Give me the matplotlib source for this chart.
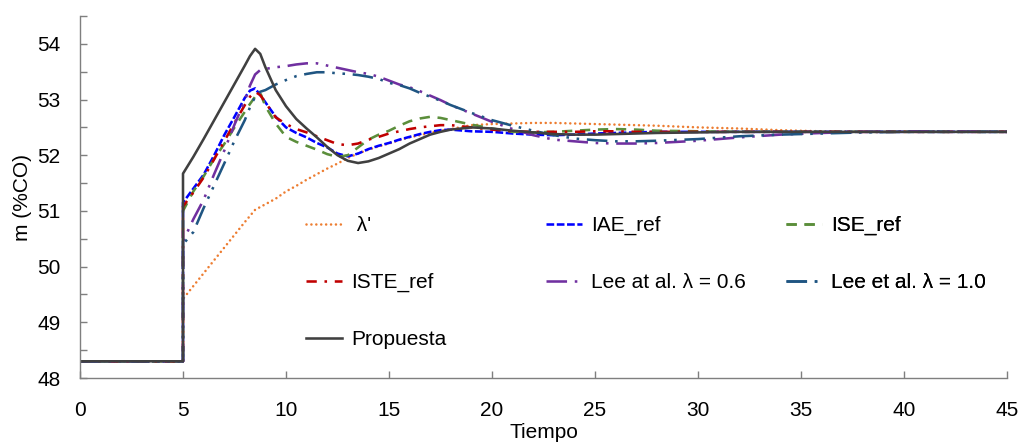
import matplotlib
matplotlib.use("Agg")
import matplotlib.pyplot as plt

plt.rcParams['font.family'] = ['Liberation Sans', 'DejaVu Sans']
plt.rcParams['font.size'] = 15

# Time axis shared by all responses (the step is applied at t = 5)
tiempo = [0, 5, 5, 5.5, 6, 6.5, 7, 7.5, 8, 8.25, 8.5, 8.75, 9, 9.5, 10, 10.5,
          11, 11.5, 12, 12.5, 13, 13.5, 14, 14.5, 15, 15.5, 16, 16.5, 17,
          17.5, 18, 19, 20, 21, 22, 23, 24, 25, 26, 27, 28, 30, 32, 34, 36,
          38, 40, 42, 45]

lambda_p = [48.3, 48.3, 49.42, 49.65, 49.88, 50.11, 50.34, 50.57, 50.80, 50.91,
            51.02, 51.07, 51.12, 51.22, 51.35, 51.45, 51.56, 51.66, 51.76,
            51.85, 51.95, 52.03, 52.10, 52.16, 52.21, 52.27, 52.32, 52.36,
            52.40, 52.44, 52.47, 52.54, 52.56, 52.57, 52.58, 52.58, 52.57,
            52.56, 52.55, 52.54, 52.53, 52.50, 52.48, 52.45, 52.43, 52.42,
            52.42, 52.42, 52.42]

iae_ref = [48.3, 48.3, 51.15, 51.40, 51.65, 51.99, 52.36, 52.69, 53.03, 53.16,
           53.20, 53.08, 52.95, 52.69, 52.50, 52.40, 52.32, 52.22, 52.14,
           52.03, 51.98, 52.03, 52.11, 52.17, 52.22, 52.28, 52.33, 52.38,
           52.42, 52.45, 52.46, 52.43, 52.42, 52.39, 52.37, 52.36, 52.37,
           52.39, 52.40, 52.41, 52.42, 52.42, 52.42, 52.42, 52.42, 52.42,
           52.42, 52.42, 52.42]

ise_ref = [48.3, 48.3, 51.00, 51.35, 51.62, 51.93, 52.20, 52.50, 52.78, 52.92,
           53.05, 53.12, 52.88, 52.57, 52.33, 52.24, 52.17, 52.10, 52.02,
           51.97, 52.00, 52.14, 52.28, 52.37, 52.44, 52.53, 52.61, 52.66,
           52.69, 52.67, 52.63, 52.55, 52.48, 52.42, 52.41, 52.42, 52.44,
           52.46, 52.47, 52.46, 52.44, 52.43, 52.42, 52.42, 52.42, 52.42,
           52.42, 52.42, 52.42]

iste_ref = [48.3, 48.3, 51.08, 51.33, 51.60, 51.92, 52.25, 52.58, 52.90, 53.05,
            53.14, 53.08, 52.95, 52.68, 52.56, 52.47, 52.41, 52.34, 52.27,
            52.20, 52.18, 52.21, 52.28, 52.33, 52.39, 52.43, 52.47, 52.50,
            52.52, 52.54, 52.54, 52.50, 52.46, 52.43, 52.42, 52.42, 52.42,
            52.43, 52.43, 52.42, 52.42, 52.42, 52.42, 52.42, 52.42, 52.42,
            52.42, 52.42, 52.42]

lee_06 = [48.3, 48.3, 50.45, 50.85, 51.20, 51.65, 52.08, 52.55, 52.98, 53.25,
          53.45, 53.53, 53.55, 53.58, 53.60, 53.63, 53.65, 53.65, 53.61,
          53.57, 53.53, 53.49, 53.46, 53.41, 53.34, 53.27, 53.22, 53.15,
          53.07, 52.99, 52.90, 52.75, 52.60, 52.47, 52.36, 52.28, 52.25,
          52.22, 52.21, 52.21, 52.22, 52.26, 52.32, 52.37, 52.40, 52.42,
          52.43, 52.43, 52.42]

lee_10 = [48.3, 48.3, 50.40, 50.62, 51.05, 51.45, 51.85, 52.26, 52.63, 52.86,
          53.05, 53.14, 53.17, 53.27, 53.35, 53.42, 53.46, 53.49, 53.49,
          53.47, 53.46, 53.44, 53.41, 53.37, 53.30, 53.26, 53.20, 53.12,
          53.05, 52.98, 52.90, 52.76, 52.63, 52.53, 52.44, 52.36, 52.30,
          52.27, 52.25, 52.25, 52.26, 52.29, 52.34, 52.37, 52.39, 52.41,
          52.42, 52.42, 52.42]

propuesta = [48.3, 48.3, 51.67, 51.97, 52.29, 52.62, 52.95, 53.28, 53.61, 53.78,
             53.91, 53.82, 53.58, 53.17, 52.88, 52.65, 52.48, 52.32, 52.15,
             52.00, 51.90, 51.86, 51.89, 51.95, 52.03, 52.11, 52.21, 52.29,
             52.37, 52.42, 52.46, 52.50, 52.48, 52.44, 52.41, 52.38, 52.37,
             52.37, 52.38, 52.39, 52.40, 52.41, 52.42, 52.42, 52.42, 52.42,
             52.42, 52.42, 52.42]

series = [
    (" λ'", lambda_p, dict(color='#ED7D31', linestyle=(0, (0.01, 1.9)),
                           dash_capstyle='round')),
    ("IAE_ref", iae_ref, dict(color='#0000FF', linestyle=(0, (3, 1)))),
    ("ISE_ref", ise_ref, dict(color='#5B8E3B', linestyle=(0, (4, 3)))),
    ("ISTE_ref", iste_ref, dict(color='#C00000', linestyle=(0, (4, 3, 1, 3)))),
    ("Lee at al. λ = 0.6", lee_06, dict(color='#7030A0',
                                         linestyle=(0, (8, 3, 1, 3, 1, 3)))),
    ("Lee et al. λ = 1.0", lee_10, dict(color='#1F5582',
                                         linestyle=(0, (8, 3, 1, 3, 1, 3)))),
    ("Propuesta", propuesta, dict(color='#404040', linestyle='-')),
]

fig = plt.figure(figsize=(10.2, 4.44), dpi=100)
ax = fig.add_axes([80 / 1020, 1 - 378 / 444, 927 / 1020, 362 / 444])

handles = []
for label, vals, style in series:
    h, = ax.plot(tiempo, vals, lw=1.85, label=label, **style)
    handles.append(h)

ax.set_xlim(0, 45)
ax.set_ylim(48, 54.5)
ax.set_xticks(range(0, 46, 5))
ax.set_yticks(range(48, 55))
ax.set_yticks([48.5 + i for i in range(7)], minor=True)

for s in ('top', 'right'):
    ax.spines[s].set_visible(False)
for s in ('left', 'bottom'):
    ax.spines[s].set_color('#7F7F7F')
    ax.spines[s].set_linewidth(1.0)

ax.tick_params(axis='both', which='both', direction='in', length=5,
               width=1.0, color='#7F7F7F', labelsize=15)
ax.tick_params(axis='x', pad=16.5)
ax.tick_params(axis='y', pad=14)

ax.set_xlabel("Tiempo", fontsize=15, labelpad=2.5)
ax.set_ylabel("m (%CO)", fontsize=15, labelpad=4)

# Legend laid out as three fixed-width columns
columns = [[0, 3, 6], [1, 4], [2, 5]]
col_x = [306, 546, 786]
for cx, idx in zip(col_x, columns):
    leg = ax.legend([handles[i] for i in idx], [series[i][0] for i in idx],
                    loc='upper left',
                    bbox_to_anchor=(cx / 1020, 1 - 216 / 444),
                    bbox_transform=fig.transFigure,
                    frameon=False, borderpad=0, borderaxespad=0,
                    handlelength=1.75, handletextpad=0.4,
                    labelspacing=1.82, fontsize=15)
    ax.add_artist(leg)

fig.savefig("out.png", dpi=100)
